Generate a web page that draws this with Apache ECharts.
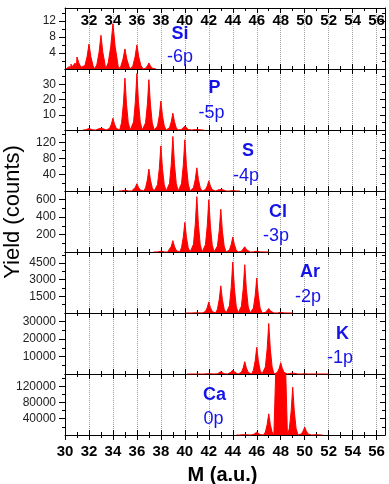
<!DOCTYPE html>
<html><head><meta charset="utf-8">
<script src="https://cdn.jsdelivr.net/npm/echarts@6/dist/echarts.min.js"></script>
<style>html,body{margin:0;padding:0;background:#fff}#c{width:389px;height:484px}</style>
</head><body><div id="c"></div>
<script>
// ---- data ----
const xTickMajor = [30,32,34,36,38,40,42,44,46,48,50,52,54,56];
const xTickMinor = [31,33,35,37,39,41,43,45,47,49,51,53,55];
const xLabelsBottom = [30,32,34,36,38,40,42,44,46,48,50,52,54,56];
const xLabelsTop = [32,34,36,38,40,42,44,46,48,50,52,54,56];

const panelNames = ['Si','P','S','Cl','Ar','K','Ca'];
const panelShifts = ['-6p','-5p','-4p','-3p','-2p','-1p','0p'];

const yMax = [15.2, 40, 150, 700, 5500, 35000, 150000];
const yLabelValues = [[4,8,12],[10,20,30],[40,80,120],[200,400,600],[1500,3000,4500],[10000,20000,30000],[40000,80000,120000]];
const yMinorValues = [[2,6,10,14],[5,15,25,35],[20,60,100,140],[100,300,500],[750,2250,3750,5250],[5000,15000,25000],[20000,60000,100000,140000]];

// peaks: [mass, height, widthFactor]
const siPeaks = [[30.5,1.2,1],[31,3,1.2],[32,6.2,1.2],[33,8.4,1.2],[34,11.3,1.4],[35,5,1.2],[36,6,1.2],[37,1.5,1]];
const pPeaks  = [[32,1,1],[33,2,1],[34,7.7,1],[35,34,1],[36,37,1],[37,33,1],[38,19,1],[39,11,1],[40,2.6,1],[41,0.5,1]];
const sPeaks  = [[35,2,1],[36,18,1],[37,54,1],[38,111,1],[39,134,1],[40,126,1],[41,57,1],[42,25,1],[43,7,1],[44,1,1]];
const clPeaks = [[38,10,1],[39,130,1],[40,340,1],[41,635,1],[42,600,1],[43,490,1],[44,172,1],[45,60,1],[46,10,1]];
const arPeaks = [[41,30,1],[42,1000,1],[43,2450,1],[44,4600,1],[45,4350,1],[46,3150,1],[47,400,1],[48,60,1]];
const kPeaks  = [[42,300,1],[43,1300,1],[44,2300,1],[45,7100,1],[46,15300,1],[47,29000,1],[48,6500,1],[49,900,1],[50,100,1]];
const caPeaks = [[45,1500,1],[46,7000,1],[47,52000,1],[48,1500000,1.3],[49,117500,1],[50,19400,1],[51,1000,1]];
const allPeaks = [siPeaks,pPeaks,sPeaks,clPeaks,arPeaks,kPeaks,caPeaks];
const baselineStart = [30.1, 31.5, 34.5, 37.4, 40.0, 40.2, 44.3];
const baselineEnd   = [37.6, 41.6, 44.6, 47.0, 49.0, 52.0, 51.5];
// single-peak line profile: [offset, fraction of height]
const peakProfile = [[-0.44,0],[-0.28,0.14],[-0.13,0.5],[0,1],[0.13,0.5],[0.28,0.14],[0.44,0]];

// ---- layout ----
const TOP0 = 8, PH = 61, LEFT = 65, WIDTH = 320, XMAX = 56.7;
const FONT = 'Liberation Sans, Arial, sans-serif';

const grids = [], xAxes = [], yAxes = [], series = [];
for (let i = 0; i < 7; i++) {
  grids.push({left: LEFT, width: WIDTH, top: TOP0 + i*PH, height: PH, containLabel: false, outerBoundsMode: 'none'});
  const base = {gridIndex: i, type: 'value', min: 30, max: XMAX, interval: 1};
  const blk = {color: '#000', width: 1};
  xAxes.push(Object.assign({}, base, {position: 'bottom',
    axisLine: {show: true, onZero: false, lineStyle: blk},
    splitLine: {show: true, lineStyle: {color: '#a0a0a0', type: 'dotted', width: 1}},
    axisTick: {show: true, inside: true, length: 5, customValues: xTickMajor, lineStyle: blk},
    axisLabel: i === 6 ? {show: true, customValues: xLabelsBottom, fontSize: 15, fontWeight: 'bold', color: '#000', fontFamily: FONT, margin: 9, formatter: v => String(v)} : {show: false}}));
  xAxes.push(Object.assign({}, base, {position: 'bottom',
    axisLine: {show: false, onZero: false}, splitLine: {show: false},
    axisTick: {show: true, inside: true, length: 3, customValues: xTickMinor, lineStyle: blk},
    axisLabel: {show: false}}));
  xAxes.push(Object.assign({}, base, {position: 'top',
    axisLine: {show: true, onZero: false, lineStyle: blk}, splitLine: {show: false},
    axisTick: {show: true, inside: true, length: 5, customValues: xTickMajor, lineStyle: blk},
    axisLabel: i === 0 ? {show: true, inside: true, customValues: xLabelsTop, fontSize: 15, fontWeight: 'bold', color: '#000', fontFamily: FONT, margin: 5, formatter: v => String(v)} : {show: false}}));
  xAxes.push(Object.assign({}, base, {position: 'top',
    axisLine: {show: false, onZero: false}, splitLine: {show: false},
    axisTick: {show: true, inside: true, length: 3, customValues: xTickMinor, lineStyle: blk},
    axisLabel: {show: false}}));

  const yb = {gridIndex: i, type: 'value', min: 0, max: yMax[i], splitLine: {show: false}};
  yAxes.push(Object.assign({}, yb, {position: 'left',
    axisLine: {show: true, onZero: false, lineStyle: blk},
    axisTick: {show: true, inside: false, length: 6, customValues: yLabelValues[i], lineStyle: blk},
    axisLabel: {show: true, customValues: yLabelValues[i], fontSize: 12, color: '#222', fontFamily: FONT, margin: 9, formatter: v => String(v)}}));
  yAxes.push(Object.assign({}, yb, {position: 'left',
    axisLine: {show: false, onZero: false},
    axisTick: {show: true, inside: false, length: 3, customValues: yMinorValues[i], lineStyle: blk},
    axisLabel: {show: false}}));
  yAxes.push(Object.assign({}, yb, {position: 'right',
    axisLine: {show: true, onZero: false, lineStyle: blk},
    axisTick: {show: true, inside: true, length: 5, customValues: yLabelValues[i], lineStyle: blk},
    axisLabel: {show: false}}));
  yAxes.push(Object.assign({}, yb, {position: 'right',
    axisLine: {show: false, onZero: false},
    axisTick: {show: true, inside: true, length: 3, customValues: yMinorValues[i], lineStyle: blk},
    axisLabel: {show: false}}));

  const pts = [[baselineStart[i], 0]];
  allPeaks[i].forEach(p => {
    peakProfile.forEach(q => pts.push([p[0] + q[0]*p[2], q[1]*p[1]]));
  });
  pts.push([baselineEnd[i], 0]);
  pts.sort((a, b) => a[0] - b[0]);
  series.push({type: 'line', xAxisIndex: 4*i, yAxisIndex: 4*i, data: pts, showSymbol: false, symbol: 'none',
    clip: true, lineStyle: {color: '#ff0000', width: 1}, areaStyle: {color: '#ff0000', opacity: 1},
    itemStyle: {color: '#ff0000'}, silent: true, z: 1});
}
xAxes.push({gridIndex: 6, type: 'value', min: 30, max: XMAX, interval: 1, position: 'bottom',
  axisLine: {show: false, onZero: false}, splitLine: {show: false},
  axisTick: {show: true, inside: false, length: 5, customValues: xTickMajor, lineStyle: {color: '#000'}}, axisLabel: {show: false}});
xAxes.push({gridIndex: 6, type: 'value', min: 30, max: XMAX, interval: 1, position: 'bottom',
  axisLine: {show: false, onZero: false}, splitLine: {show: false},
  axisTick: {show: true, inside: false, length: 3, customValues: xTickMinor, lineStyle: {color: '#000'}}, axisLabel: {show: false}});

const namePos = [[180,34.5],[214.5,88.5],[248,151],[278,212],[310,272],[342.5,334],[214.5,395]];
const shiftPos = [[180,57],[211.5,113],[246,176],[276,236],[308,297],[340,358],[213.5,419]];
const graphics = [];
for (let i = 0; i < 7; i++) {
  graphics.push({type: 'text', x: namePos[i][0], y: namePos[i][1], z: 100,
    style: {text: panelNames[i], font: 'bold 18px ' + FONT, fill: '#1414e6', align: 'center', verticalAlign: 'middle'}});
  graphics.push({type: 'text', x: shiftPos[i][0], y: shiftPos[i][1], z: 100,
    style: {text: panelShifts[i], font: '18px ' + FONT, fill: '#1414e6', align: 'center', verticalAlign: 'middle'}});
}
graphics.push({type: 'text', x: 222.5, y: 475, z: 100,
  style: {text: 'M (a.u.)', font: 'bold 20px ' + FONT, fill: '#000', align: 'center', verticalAlign: 'middle'}});
graphics.push({type: 'text', x: 13, y: 212, rotation: Math.PI/2, z: 100,
  style: {text: 'Yield (counts)', font: '22px ' + FONT, fill: '#000', align: 'center', verticalAlign: 'middle'}});

const chart = echarts.init(document.getElementById('c'), null, {renderer: 'canvas'});
chart.setOption({
  animation: false,
  backgroundColor: '#fff',
  grid: grids, xAxis: xAxes, yAxis: yAxes, series: series, graphic: graphics
});
</script></body></html>
